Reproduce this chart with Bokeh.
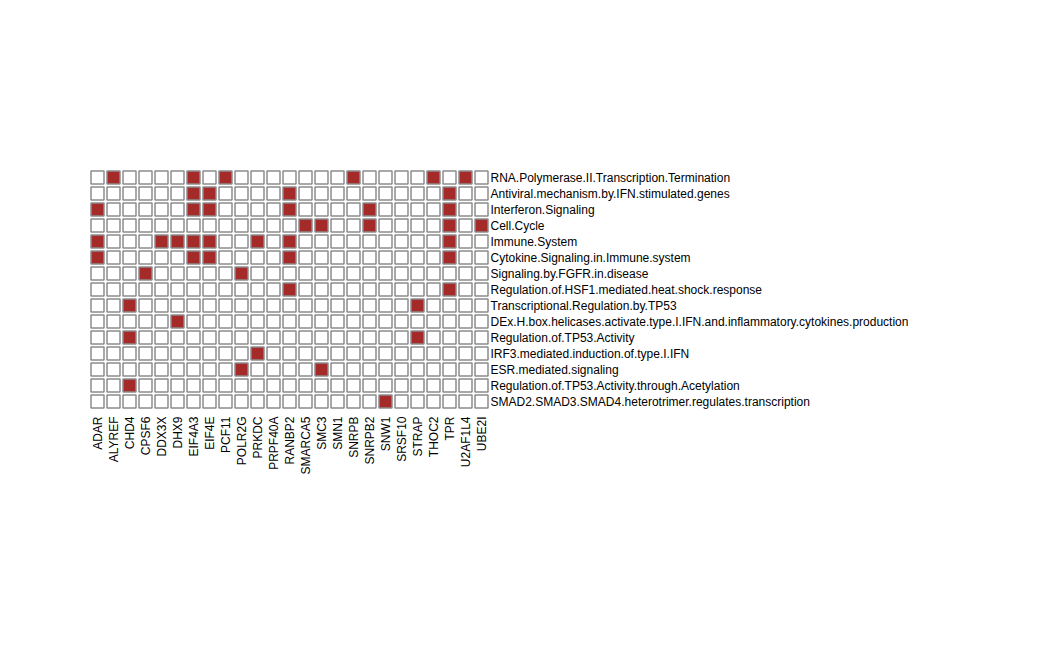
from bokeh.plotting import figure
from bokeh.models import Range1d, ColumnDataSource
from bokeh.core.properties import value
from bokeh.embed import file_html
from bokeh.resources import INLINE
import math

genes = ["ADAR", "ALYREF", "CHD4", "CPSF6", "DDX3X", "DHX9", "EIF4A3", "EIF4E", "PCF11",
         "POLR2G", "PRKDC", "PRPF40A", "RANBP2", "SMARCA5", "SMC3", "SMN1", "SNRPB",
         "SNRPB2", "SNW1", "SRSF10", "STRAP", "THOC2", "TPR", "U2AF1L4", "UBE2I"]

pathways = [
    "RNA.Polymerase.II.Transcription.Termination",
    "Antiviral.mechanism.by.IFN.stimulated.genes",
    "Interferon.Signaling",
    "Cell.Cycle",
    "Immune.System",
    "Cytokine.Signaling.in.Immune.system",
    "Signaling.by.FGFR.in.disease",
    "Regulation.of.HSF1.mediated.heat.shock.response",
    "Transcriptional.Regulation.by.TP53",
    "DEx.H.box.helicases.activate.type.I.IFN.and.inflammatory.cytokines.production",
    "Regulation.of.TP53.Activity",
    "IRF3.mediated.induction.of.type.I.IFN",
    "ESR.mediated.signaling",
    "Regulation.of.TP53.Activity.through.Acetylation",
    "SMAD2.SMAD3.SMAD4.heterotrimer.regulates.transcription",
]

members = [
    ["ALYREF", "EIF4A3", "PCF11", "SNRPB", "THOC2", "U2AF1L4"],
    ["EIF4A3", "EIF4E", "RANBP2", "TPR"],
    ["ADAR", "EIF4A3", "EIF4E", "RANBP2", "SNRPB2", "TPR"],
    ["SMARCA5", "SMC3", "SNRPB2", "TPR", "UBE2I"],
    ["ADAR", "DDX3X", "DHX9", "EIF4A3", "EIF4E", "PRKDC", "RANBP2", "TPR"],
    ["ADAR", "EIF4A3", "EIF4E", "RANBP2", "TPR"],
    ["CPSF6", "POLR2G"],
    ["RANBP2", "TPR"],
    ["CHD4", "STRAP"],
    ["DHX9"],
    ["CHD4", "STRAP"],
    ["PRKDC"],
    ["POLR2G", "SMC3"],
    ["CHD4"],
    ["SNW1"],
]

W, H = 1027, 637
x0, y0, step = 97, 177, 16

xs, ys, fills = [], [], []
for j, p in enumerate(pathways):
    for i, g in enumerate(genes):
        xs.append(x0 + step * i)
        ys.append(H - (y0 + step * j))
        fills.append("#A52A2A" if g in members[j] else "white")

p = figure(width=W, height=H, output_backend="svg", toolbar_location=None,
           x_range=Range1d(0, W), y_range=Range1d(0, H), min_border=0)
p.axis.visible = False
p.grid.visible = False
p.outline_line_color = None

p.rect(x="x", y="y", width=13, height=13, fill_color="fill",
       line_color="#8c8c8c", line_width=1.5,
       source=ColumnDataSource(dict(x=xs, y=ys, fill=fills)))

p.text(x=[x0 + step * len(genes) - 7] * len(pathways),
       y=[H - (y0 + step * j) for j in range(len(pathways))],
       text=pathways, text_font=value("Liberation Sans"), text_font_size="12px",
       text_align="left", text_baseline="middle", text_color="black")

p.text(x=[x0 + step * i for i in range(len(genes))],
       y=[H - (y0 + step * len(pathways) - 1)] * len(genes),
       text=genes, angle=math.pi / 2, text_font=value("Liberation Sans"),
       text_font_size="12px", text_align="right", text_baseline="middle",
       text_color="black")

open("out.html", "w").write(file_html(p, INLINE))
